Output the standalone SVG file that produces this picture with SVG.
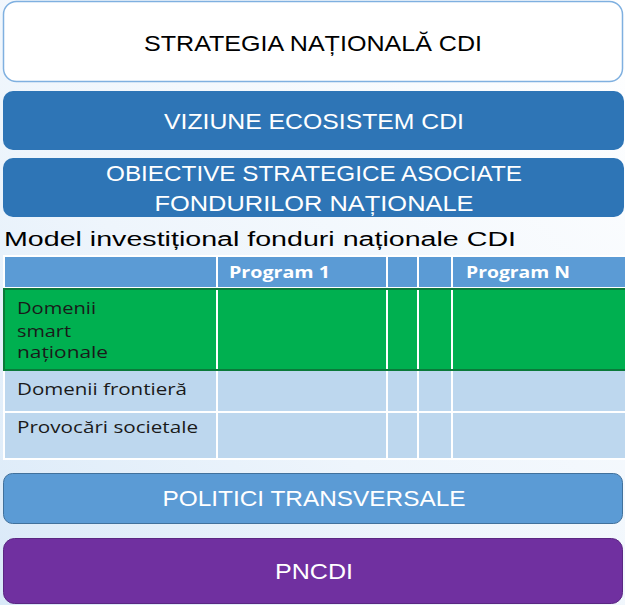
<svg xmlns="http://www.w3.org/2000/svg" width="625" height="605" viewBox="0 0 625 605">
  <defs>
    <linearGradient id="bg" x1="1" y1="0" x2="0" y2="1">
      <stop offset="0" stop-color="#FFFFFF"/>
      <stop offset="0.6" stop-color="#EEF5FC"/>
      <stop offset="1" stop-color="#D9E9F8"/>
    </linearGradient>
    <style>
      .t { font-family: "Liberation Sans", Arial, sans-serif; }
      .o { font-family: "Open Sans", "Liberation Sans", sans-serif; }
      .cap { font-size: 22px; fill: #FFFFFF; text-anchor: middle; }
      .hdr { fill: #5B9BD5; stroke: #FFFFFF; stroke-width: 2; }
      .cell { fill: #BDD7EE; stroke: #FFFFFF; stroke-width: 2; }
      .grid { stroke: #FFFFFF; stroke-width: 2; }
      .lbl { font-size: 17px; fill: #1A1A1A; }
      .ph { font-size: 16px; font-weight: bold; fill: #FFFFFF; }
    </style>
  </defs>
  <rect x="0" y="0" width="625" height="605" fill="url(#bg)"/>

  <g id="strategia">
    <rect x="3.5" y="1.5" width="619" height="80" rx="13" fill="#FFFFFF" stroke="#7FB0E0" stroke-width="1.5"/>
    <text class="t" x="313" y="51" font-size="22" fill="#000000" text-anchor="middle" textLength="338" lengthAdjust="spacingAndGlyphs">STRATEGIA NAȚIONALĂ CDI</text>
  </g>

  <g id="viziune">
    <rect x="3" y="91" width="621" height="59" rx="10" fill="#2E75B6"/>
    <text class="t cap" x="314" y="129" textLength="300" lengthAdjust="spacingAndGlyphs">VIZIUNE ECOSISTEM CDI</text>
  </g>

  <g id="obiective">
    <rect x="3" y="158" width="621" height="59" rx="10" fill="#2E75B6"/>
    <text class="t cap" x="314" y="181" textLength="416" lengthAdjust="spacingAndGlyphs">OBIECTIVE STRATEGICE ASOCIATE</text>
    <text class="t cap" x="314" y="211" textLength="319" lengthAdjust="spacingAndGlyphs">FONDURILOR NAȚIONALE</text>
  </g>

  <g id="model-title">
    <text class="t" x="4" y="246" font-size="20" fill="#000000" textLength="512" lengthAdjust="spacingAndGlyphs">Model investițional fonduri naționale CDI</text>
  </g>

  <g id="tabel">
    <g id="header-row">
      <rect class="hdr" x="4" y="256" width="213" height="32"/>
      <rect class="hdr" x="217" y="256" width="170" height="32"/>
      <rect class="hdr" x="387" y="256" width="31" height="32"/>
      <rect class="hdr" x="418" y="256" width="34" height="32"/>
      <rect class="hdr" x="452" y="256" width="175" height="32"/>
      <text class="o ph" x="229" y="278" textLength="101" lengthAdjust="spacingAndGlyphs">Program 1</text>
      <text class="o ph" x="466" y="278" textLength="104" lengthAdjust="spacingAndGlyphs">Program N</text>
    </g>
    <g id="row-frontiera">
      <rect class="cell" x="4" y="370" width="213" height="42"/>
      <rect class="cell" x="217" y="370" width="170" height="42"/>
      <rect class="cell" x="387" y="370" width="31" height="42"/>
      <rect class="cell" x="418" y="370" width="34" height="42"/>
      <rect class="cell" x="452" y="370" width="175" height="42"/>
      <text class="o lbl" x="17" y="395" textLength="170" lengthAdjust="spacingAndGlyphs">Domenii frontieră</text>
    </g>
    <g id="row-provocari">
      <rect class="cell" x="4" y="412" width="213" height="47"/>
      <rect class="cell" x="217" y="412" width="170" height="47"/>
      <rect class="cell" x="387" y="412" width="31" height="47"/>
      <rect class="cell" x="418" y="412" width="34" height="47"/>
      <rect class="cell" x="452" y="412" width="175" height="47"/>
      <text class="o lbl" x="17" y="433" textLength="181" lengthAdjust="spacingAndGlyphs">Provocări societale</text>
    </g>
    <g id="row-smart">
      <rect x="4" y="289" width="622" height="81" fill="#00B050"/>
      <line class="grid" x1="217" y1="289" x2="217" y2="370"/>
      <line class="grid" x1="387" y1="289" x2="387" y2="370"/>
      <line class="grid" x1="418" y1="289" x2="418" y2="370"/>
      <line class="grid" x1="452" y1="289" x2="452" y2="370"/>
      <rect x="4" y="289" width="622" height="81" fill="none" stroke="#0B7A3A" stroke-width="2"/>
      <text class="o lbl" x="17" y="314" textLength="79" lengthAdjust="spacingAndGlyphs">Domenii</text>
      <text class="o lbl" x="17" y="337" textLength="54" lengthAdjust="spacingAndGlyphs">smart</text>
      <text class="o lbl" x="17" y="358" textLength="91" lengthAdjust="spacingAndGlyphs">naționale</text>
    </g>
  </g>

  <g id="politici">
    <rect x="3.5" y="473.5" width="619" height="50" rx="9" fill="#5B9BD5" stroke="#41719C" stroke-width="1"/>
    <text class="t cap" x="314" y="506" textLength="303" lengthAdjust="spacingAndGlyphs">POLITICI TRANSVERSALE</text>
  </g>

  <g id="pncdi">
    <rect x="3.5" y="538.5" width="619" height="65" rx="11" fill="#7030A0" stroke="#5A2782" stroke-width="1"/>
    <text class="t cap" x="314" y="579" textLength="78" lengthAdjust="spacingAndGlyphs">PNCDI</text>
  </g>
</svg>
